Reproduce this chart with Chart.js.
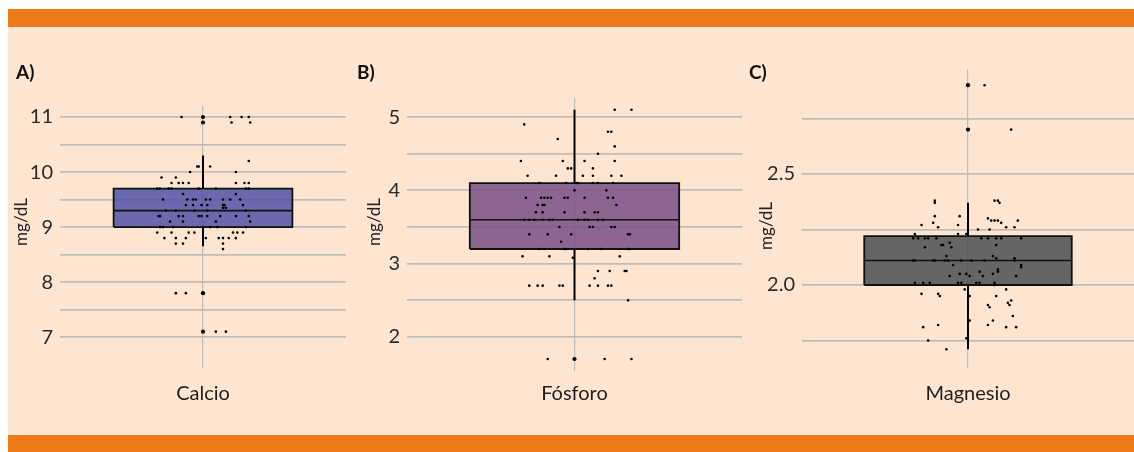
<!DOCTYPE html>
<html>
<head>
<meta charset="utf-8">
<script src="https://cdn.jsdelivr.net/npm/chart.js@4/dist/chart.umd.min.js"></script>
<style>
  html, body { margin: 0; padding: 0; background: #ffffff; }
  #page { position: relative; width: 1134px; height: 452px; overflow: hidden; background: #ffffff; }
  .band { position: absolute; left: 8px; right: 0; background: #EE7B1A; }
  #bandTop { top: 9px; height: 18px; }
  #bandBottom { top: 435px; height: 17px; }
  #panel { position: absolute; left: 8px; right: 0; top: 27px; height: 408px; background: #FDE5D2; }
  .tag { position: absolute; top: 62px; font: bold 19px Lato, sans-serif; line-height: 20px; color: #111; }
  .ylab { position: absolute; width: 70px; height: 20px; line-height: 20px; text-align: center;
          font: 17px Lato, sans-serif; color: #222; transform: rotate(-90deg); }
  canvas { position: absolute; top: 0; }
</style>
</head>
<body>
<div id="page">
  <div class="band" id="bandTop"></div>
  <div id="panel"></div>
  <div class="band" id="bandBottom"></div>

  <canvas id="chartA" width="335" height="406" style="left:15px"></canvas>
  <canvas id="chartB" width="384" height="406" style="left:362px"></canvas>
  <canvas id="chartC" width="381" height="406" style="left:757px"></canvas>

  <div class="tag" style="left:16px">A)</div>
  <div class="tag" style="left:357px">B)</div>
  <div class="tag" style="left:749px">C)</div>

  <div class="ylab" style="left:-15px; top:212px">mg/dL</div>
  <div class="ylab" style="left:338px; top:212px">mg/dL</div>
  <div class="ylab" style="left:730px; top:216px">mg/dL</div>
</div>

<script>
// ---- Categories ----
const categories = ['Calcio', 'Fósforo', 'Magnesio'];

// ---- Calcio (mg/dL) ----
const calcioValues = [
  11.0, 11.0, 11.0, 11.0, 10.9, 10.9, 10.2, 10.1, 10.1, 10.1, 10.0, 10.0, 9.9, 9.9,
  9.8, 9.8, 9.8, 9.8, 9.8, 9.8, 9.8,
  9.7, 9.7, 9.7, 9.7, 9.7, 9.7, 9.7, 9.7,
  9.6, 9.6,
  9.5, 9.5, 9.5, 9.5, 9.5, 9.5, 9.5, 9.5, 9.5,
  9.4, 9.4, 9.4, 9.4, 9.4, 9.4, 9.4,
  9.3, 9.3, 9.3, 9.3, 9.35, 9.35, 9.3,
  9.2, 9.2, 9.2, 9.2, 9.2, 9.2, 9.2, 9.2, 9.2, 9.2,
  9.1, 9.1, 9.1, 9.1,
  9.0, 9.0, 9.0, 9.0, 9.0, 9.0, 9.0,
  8.9, 8.9, 8.9, 8.9, 8.9, 8.9, 8.9,
  8.8, 8.8, 8.8, 8.8, 8.8, 8.8, 8.8, 8.8,
  8.7, 8.7, 8.7, 8.6, 7.8, 7.8, 7.1, 7.1
];
const calcioJitter = [
  -0.15, 0.19, 0.27, 0.32, 0.20, 0.33, 0.32, -0.04, -0.03, 0.05, -0.09, 0.23, -0.29, -0.19,
  -0.22, -0.17, -0.14, -0.10, 0.23, 0.29, 0.32,
  -0.32, -0.30, -0.24, -0.22, -0.03, 0.09, 0.30, 0.32,
  -0.14, 0.23,
  -0.28, -0.11, -0.07, -0.05, 0.02, 0.05, 0.14, 0.19, 0.26,
  -0.12, -0.07, -0.01, 0.03, 0.14, 0.15, 0.28,
  -0.26, -0.19, -0.06, 0.03, 0.14, 0.16, 0.30,
  -0.31, -0.30, -0.17, -0.14, -0.03, -0.01, 0.03, 0.12, 0.23, 0.32,
  -0.23, -0.14, 0.09, 0.33,
  -0.30, -0.28, -0.21, 0.00, 0.05, 0.10, 0.30,
  -0.32, -0.22, -0.10, -0.06, 0.21, 0.24, 0.28,
  -0.27, -0.19, -0.12, 0.02, 0.11, 0.14, 0.18, 0.23,
  -0.19, -0.14, 0.14, 0.14, -0.19, -0.12, 0.09, 0.16
];
const calcioOutliers = [11.0, 10.9, 7.8, 7.1];
// whisker low, Q1, median, Q3, whisker high
const calcioBox = [8.65, 9.0, 9.3, 9.7, 10.3];
const calcioGrid = [7, 7.5, 8, 8.5, 9, 9.5, 10, 10.5, 11];
const calcioTickLabels = ['7', '8', '9', '10', '11'];

// ---- Fósforo (mg/dL) ----
const fosforoValues = [
  5.1, 5.1, 4.9, 4.8, 4.8, 4.7, 4.6, 4.5,
  4.4, 4.4, 4.4, 4.4, 4.3, 4.3, 4.3,
  4.2, 4.2, 4.2, 4.2, 4.2, 4.2,
  4.1, 4.1, 4.1, 4.1, 4.1, 4.1, 4.1,
  4.0, 4.0,
  3.9, 3.9, 3.9, 3.9, 3.9, 3.9, 3.9, 3.9, 3.9, 3.9,
  3.8, 3.8, 3.8, 3.8,
  3.7, 3.7, 3.7, 3.7, 3.7, 3.7,
  3.6, 3.6, 3.6, 3.6, 3.6, 3.6, 3.6, 3.6, 3.6, 3.6, 3.6,
  3.5, 3.5, 3.5, 3.5, 3.5,
  3.4, 3.4, 3.4, 3.4, 3.4, 3.3,
  3.2, 3.2, 3.2, 3.2, 3.2, 3.2, 3.2, 3.2,
  3.1, 3.1, 3.08, 3.1,
  2.9, 2.9, 2.9, 2.9, 2.8,
  2.7, 2.7, 2.7, 2.7, 2.7, 2.7, 2.7, 2.7, 2.7,
  2.5, 1.7, 1.7, 1.7
];
const fosforoJitter = [
  0.24, 0.34, -0.30, 0.20, 0.22, -0.10, 0.24, 0.14,
  -0.32, -0.07, 0.06, 0.24, -0.04, -0.02, 0.11,
  -0.28, -0.11, 0.05, 0.11, 0.22, 0.28,
  -0.21, -0.05, 0.01, 0.02, 0.11, 0.14, 0.23,
  0.00, 0.19,
  -0.29, -0.20, -0.18, -0.16, -0.14, -0.06, -0.04, 0.06, 0.20, 0.23,
  -0.22, -0.19, -0.18, 0.25,
  -0.23, -0.19, -0.06, 0.06, 0.12, 0.14,
  -0.30, -0.27, -0.24, -0.19, -0.15, -0.13, 0.02, 0.06, 0.08, 0.14, 0.17,
  -0.09, 0.09, 0.11, 0.22, 0.24,
  -0.27, -0.16, -0.02, 0.32, 0.33, -0.08,
  -0.21, -0.18, -0.06, -0.05, 0.08, 0.16, 0.32, 0.33,
  -0.31, -0.15, -0.01, 0.27,
  0.14, 0.21, 0.30, 0.31, 0.12,
  -0.27, -0.22, -0.19, -0.09, -0.07, 0.09, 0.14, 0.20, 0.22,
  0.32, -0.16, 0.18, 0.34
];
const fosforoOutliers = [1.7];
const fosforoBox = [2.5, 3.2, 3.6, 4.1, 5.1];
const fosforoGrid = [2, 2.5, 3, 3.5, 4, 4.5, 5];
const fosforoTickLabels = ['2', '3', '4', '5'];

// ---- Magnesio (mg/dL) ----
const magnesioValues = [
  2.9, 2.7,
  2.38, 2.38, 2.38, 2.37, 2.37, 2.31, 2.31, 2.30,
  2.29, 2.29, 2.29, 2.29, 2.28, 2.28, 2.27, 2.27,
  2.26, 2.26, 2.26, 2.25, 2.25, 2.23, 2.23, 2.23,
  2.21, 2.21, 2.21, 2.21, 2.21, 2.21, 2.21, 2.21, 2.21, 2.21,
  2.19, 2.18, 2.18, 2.18, 2.17, 2.17, 2.13, 2.13, 2.12, 2.12,
  2.11, 2.11, 2.11, 2.11, 2.11, 2.11, 2.11, 2.11, 2.11, 2.11,
  2.09, 2.09, 2.08, 2.07, 2.06, 2.06, 2.05, 2.05, 2.05,
  2.04, 2.04, 2.04, 2.04,
  2.01, 2.01, 2.01, 2.01, 2.01, 2.01, 2.01, 2.01, 2.00,
  1.98, 1.98, 1.96, 1.96, 1.95, 1.95, 1.95, 1.93, 1.92, 1.91, 1.91, 1.90,
  1.86, 1.84, 1.84, 1.82, 1.82, 1.81, 1.81, 1.81, 1.76, 1.75, 1.71
];
const magnesioJitter = [
  0.10, 0.26,
  -0.20, 0.16, 0.18, -0.20, 0.19, -0.20, -0.05, 0.12,
  0.14, 0.16, 0.18, 0.30, -0.21, 0.20, -0.28, -0.06,
  -0.18, 0.23, 0.28, 0.06, 0.13, -0.32, -0.06, -0.01,
  -0.33, -0.30, -0.26, -0.24, -0.19, 0.08, 0.12, 0.17, 0.20, 0.32,
  -0.11, -0.16, -0.15, 0.17, -0.26, -0.10, -0.13, 0.15, 0.17, 0.28,
  -0.33, -0.32, -0.21, -0.20, -0.14, -0.12, -0.04, 0.02, 0.10, 0.28,
  -0.09, 0.32, 0.32, 0.18, 0.18, 0.07, 0.15, -0.05, -0.01,
  -0.11, 0.01, 0.09, 0.29,
  -0.32, -0.27, -0.23, -0.06, -0.04, 0.05, 0.07, 0.16, 0.16,
  -0.02, 0.23, -0.28, -0.18, -0.17, 0.01, 0.17, 0.26, 0.24, 0.12, 0.25, 0.13,
  0.27, 0.01, 0.15, 0.12, -0.18, 0.23, 0.29, -0.27, -0.01, -0.24, -0.13
];
const magnesioOutliers = [2.9, 2.7];
const magnesioBox = [1.71, 2.0, 2.11, 2.22, 2.37];
const magnesioGrid = [1.75, 2.0, 2.25, 2.5, 2.75];
const magnesioTickLabels = ['2.0', '2.5'];

// ---- Shared styling ----
const BOX_HALF = 0.625;
const FONT = 'Lato, "Open Sans", sans-serif';
const GRID_COLOR = '#bfbdba';

function boxplotDatasets(box, outliers, values, jitter, fillColor) {
  const [lo, q1, med, q3, hi] = box;
  return [
    { // jittered observations
      type: 'scatter', order: 0,
      data: values.map((v, i) => ({ x: jitter[i], y: v })),
      pointRadius: 1.3, pointBackgroundColor: '#000', pointBorderWidth: 0, showLine: false
    },
    { // outliers on the box axis
      type: 'scatter', order: 1,
      data: outliers.map(v => ({ x: 0, y: v })),
      pointRadius: 2.1, pointBackgroundColor: '#000', pointBorderWidth: 0, showLine: false
    },
    { // median
      type: 'line', order: 2,
      data: [{ x: -BOX_HALF, y: med }, { x: BOX_HALF, y: med }],
      borderColor: '#111', borderWidth: 1.6, pointRadius: 0, fill: false, tension: 0
    },
    { // box outline
      type: 'line', order: 3,
      data: [{ x: -BOX_HALF, y: q1 }, { x: -BOX_HALF, y: q3 }, { x: BOX_HALF, y: q3 },
             { x: BOX_HALF, y: q1 }, { x: -BOX_HALF, y: q1 }],
      borderColor: '#111', borderWidth: 1.8, borderJoinStyle: 'miter',
      pointRadius: 0, fill: false, tension: 0
    },
    { // box body, filled from Q3 down to Q1
      type: 'line', order: 4,
      data: [{ x: -BOX_HALF, y: q3 }, { x: BOX_HALF, y: q3 }],
      borderWidth: 0, borderColor: 'rgba(0,0,0,0)', pointRadius: 0,
      fill: { value: q1 }, backgroundColor: fillColor, tension: 0
    },
    { // whiskers
      type: 'line', order: 5,
      data: [{ x: 0, y: lo }, { x: 0, y: q1 }, { x: 0, y: null }, { x: 0, y: q3 }, { x: 0, y: hi }],
      borderColor: '#000', borderWidth: 2, pointRadius: 0, fill: false, spanGaps: false
    }
  ];
}

function makePanel(canvasId, cfg) {
  new Chart(document.getElementById(canvasId), {
    type: 'scatter',
    data: { datasets: boxplotDatasets(cfg.box, cfg.outliers, cfg.values, cfg.jitter, cfg.fill) },
    options: {
      responsive: false,
      animation: false,
      events: [],
      layout: { padding: { top: cfg.top, right: 0, bottom: 0, left: 0 } },
      plugins: { legend: { display: false }, tooltip: { enabled: false } },
      scales: {
        x: {
          type: 'linear', min: -1, max: 1,
          afterBuildTicks: s => { s.ticks = [{ value: 0 }]; },
          afterFit: s => { s.height = 406 - cfg.bottom; },
          ticks: { display: false },
          grid: { color: GRID_COLOR, lineWidth: 1.2, drawTicks: false },
          border: { display: false },
          title: { display: true, text: cfg.name, color: '#1e1e1e',
                   font: { family: FONT, size: 20 }, padding: 0 }
        },
        y: {
          type: 'linear', min: cfg.yMin, max: cfg.yMax,
          afterBuildTicks: s => { s.ticks = cfg.grid.map(v => ({ value: v })); },
          afterFit: s => { s.width = 45; },
          ticks: {
            autoSkip: false, padding: 7, color: '#2a2a2a',
            font: { family: FONT, size: 20 },
            callback: v => {
              const lab = cfg.labels.find(t => Math.abs(parseFloat(t) - v) < 1e-9);
              return lab === undefined ? '' : lab;
            }
          },
          grid: { color: GRID_COLOR, lineWidth: 1.8, drawTicks: false },
          border: { display: false }
        }
      }
    }
  });
}

makePanel('chartA', {
  name: categories[0], values: calcioValues, jitter: calcioJitter, outliers: calcioOutliers,
  box: calcioBox, grid: calcioGrid, labels: calcioTickLabels,
  yMin: 6.44, yMax: 11.2, top: 106, bottom: 368, fill: 'rgba(82,84,168,0.86)'
});
makePanel('chartB', {
  name: categories[1], values: fosforoValues, jitter: fosforoJitter, outliers: fosforoOutliers,
  box: fosforoBox, grid: fosforoGrid, labels: fosforoTickLabels,
  yMin: 1.536, yMax: 5.26, top: 98, bottom: 371, fill: 'rgba(121,80,134,0.86)'
});
makePanel('chartC', {
  name: categories[2], values: magnesioValues, jitter: magnesioJitter, outliers: magnesioOutliers,
  box: magnesioBox, grid: magnesioGrid, labels: magnesioTickLabels,
  yMin: 1.626, yMax: 2.973, top: 69, bottom: 368, fill: 'rgba(76,79,82,0.86)'
});
</script>
</body>
</html>
